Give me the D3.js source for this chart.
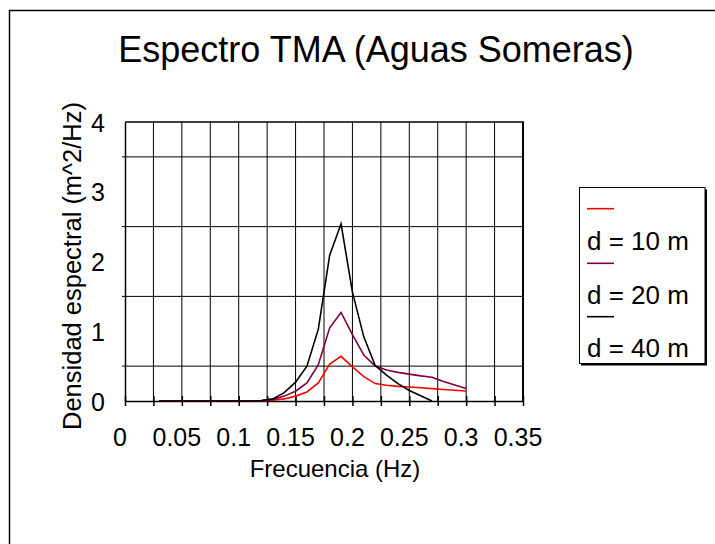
<!DOCTYPE html>
<html>
<head>
<meta charset="utf-8">
<script src="https://cdn.jsdelivr.net/npm/d3@7"></script>
<style>
  html, body { margin: 0; padding: 0; background: #fff; }
  svg { display: block; }
  text { font-family: "Liberation Sans", Arial, Helvetica, sans-serif; fill: #000; }
</style>
</head>
<body>
<svg id="chart" width="715" height="544"></svg>
<script>
// ---------- data ----------
const frequencies = [0.03, 0.04, 0.05, 0.06, 0.07, 0.08, 0.09, 0.10, 0.11, 0.12,
                     0.13, 0.14, 0.15, 0.16, 0.17, 0.18, 0.19, 0.20, 0.21, 0.22,
                     0.23, 0.24, 0.25, 0.26, 0.27, 0.28, 0.29, 0.30];
const seriesNames = ["d = 10 m", "d = 20 m", "d = 40 m"];
const d10 = [0, 0, 0, 0, 0, 0, 0, 0, 0, 0.002,
             0.01, 0.03, 0.07, 0.13, 0.26, 0.53, 0.64, 0.49, 0.35, 0.25,
             0.225, 0.21, 0.20, 0.19, 0.178, 0.165, 0.155, 0.143];
const d20 = [0, 0, 0, 0, 0, 0, 0, 0, 0, 0.005,
             0.02, 0.07, 0.14, 0.26, 0.52, 1.05, 1.27, 0.95, 0.66, 0.50,
             0.445, 0.41, 0.385, 0.36, 0.34, 0.28, 0.23, 0.18];
const d40 = [0, 0, 0, 0, 0, 0, 0, 0, 0, 0.005,
             0.03, 0.12, 0.27, 0.50, 1.03, 2.09, 2.54, 1.56, 0.92, 0.51,
             0.37, 0.25, 0.15, 0.075, 0.0];
const seriesColors = ["#ff0000", "#800040", "#000000"];
const xTickLabels = [0, 0.05, 0.1, 0.15, 0.2, 0.25, 0.3, 0.35];
const xGridValues = [0.025, 0.05, 0.075, 0.1, 0.125, 0.15, 0.175, 0.2, 0.225, 0.25, 0.275, 0.3, 0.325];
const xMinorTicks = [0, 0.025, 0.05, 0.075, 0.1, 0.125, 0.15, 0.175, 0.2, 0.225, 0.25, 0.275, 0.3, 0.325, 0.35];
const yTickLabels = [0, 1, 2, 3, 4];
const yGridValues = [0.5, 1.5, 2.5, 3.5];
const titleText = "Espectro TMA (Aguas Someras)";
const xTitle = "Frecuencia (Hz)";
const yTitle = "Densidad espectral (m^2/Hz)";

// ---------- layout ----------
const svg = d3.select("#chart");
const plot = { left: 125, right: 523, top: 122, bottom: 401 };
const x = d3.scaleLinear().domain([0, 0.35]).range([plot.left, plot.right]);
const y = d3.scaleLinear().domain([0, 4]).range([plot.bottom, plot.top]);

// outer chart frame (extends past right/bottom edges)
svg.append("rect")
  .attr("x", 9.5).attr("y", 10.5).attr("width", 720).attr("height", 560)
  .attr("fill", "none").attr("stroke", "#000").attr("stroke-width", 1.5);

// title
svg.append("text")
  .attr("x", 376).attr("y", 62)
  .attr("text-anchor", "middle")
  .style("font-size", "36px")
  .text(titleText);

// horizontal grid lines
svg.append("g").selectAll("line").data(yGridValues).join("line")
  .attr("x1", plot.left - 3).attr("x2", plot.right)
  .attr("y1", d => y(d)).attr("y2", d => y(d))
  .attr("stroke", "#000").attr("stroke-width", 1);

// vertical grid lines
svg.append("g").selectAll("line").data(xGridValues).join("line")
  .attr("x1", d => x(d)).attr("x2", d => x(d))
  .attr("y1", plot.top).attr("y2", plot.bottom)
  .attr("stroke", "#000").attr("stroke-width", 1);

// plot border top & right
svg.append("line")
  .attr("x1", plot.left).attr("x2", plot.right + 1)
  .attr("y1", plot.top).attr("y2", plot.top)
  .attr("stroke", "#000").attr("stroke-width", 1.5);
svg.append("line")
  .attr("x1", plot.right).attr("x2", plot.right)
  .attr("y1", plot.top).attr("y2", plot.bottom)
  .attr("stroke", "#000").attr("stroke-width", 2);

// x axis
const xAxis = d3.axisBottom(x)
  .tickValues(xMinorTicks)
  .tickSize(0)
  .tickFormat("");
const gx = svg.append("g").attr("transform", `translate(0,${plot.bottom})`).call(xAxis);
gx.select(".domain").attr("stroke", "#000").attr("stroke-width", 1.5);
gx.selectAll(".tick line").attr("y1", -5).attr("y2", 5).attr("stroke", "#000").attr("stroke-width", 1.5);

svg.append("g").selectAll("text").data(xTickLabels).join("text")
  .attr("x", d => x(d) - 5).attr("y", 446)
  .attr("text-anchor", "middle")
  .style("font-size", "25px")
  .text(d => d3.format("~g")(d));

// y axis
const yAxis = d3.axisLeft(y).tickValues(yTickLabels).tickSize(0).tickFormat("");
const gy = svg.append("g").attr("transform", `translate(${plot.left},0)`).call(yAxis);
gy.select(".domain").attr("stroke", "#000").attr("stroke-width", 1.5);

svg.append("g").selectAll("text").data(yTickLabels).join("text")
  .attr("x", 105).attr("y", d => y(d) + 3)
  .attr("text-anchor", "end")
  .attr("dominant-baseline", "middle")
  .style("font-size", "25px")
  .text(d => d);

// axis titles
svg.append("text")
  .attr("x", 335).attr("y", 477)
  .attr("text-anchor", "middle")
  .style("font-size", "24px")
  .text(xTitle);
svg.append("text")
  .attr("transform", "translate(81,266) rotate(-90)")
  .attr("text-anchor", "middle")
  .style("font-size", "25.5px")
  .text(yTitle);

// series lines
const allSeries = [d10, d20, d40];
const line = d3.line().x(d => x(d[0])).y(d => y(d[1]));
allSeries.forEach((vals, i) => {
  const pts = vals.map((v, j) => [frequencies[j], v]);
  svg.append("path")
    .datum(pts)
    .attr("fill", "none")
    .attr("stroke", seriesColors[i])
    .attr("stroke-width", 1.6)
    .attr("stroke-linejoin", "miter")
    .attr("d", line);
});

// legend
const lg = svg.append("g");
lg.append("rect").attr("x", 581).attr("y", 189.5).attr("width", 126).attr("height", 176)
  .attr("fill", "#000");
lg.append("rect").attr("x", 579.5).attr("y", 187.5).attr("width", 125.5).attr("height", 176)
  .attr("fill", "#fff").attr("stroke", "#000").attr("stroke-width", 1);
const legLineY = [208.7, 263.3, 316.7];
const legTextY = [250, 303.5, 357];
seriesNames.forEach((name, i) => {
  lg.append("line")
    .attr("x1", 587).attr("x2", 614)
    .attr("y1", legLineY[i]).attr("y2", legLineY[i])
    .attr("stroke", seriesColors[i]).attr("stroke-width", 1.6);
  lg.append("text")
    .attr("x", 587).attr("y", legTextY[i])
    .style("font-size", "26px")
    .text(name);
});
</script>
</body>
</html>
